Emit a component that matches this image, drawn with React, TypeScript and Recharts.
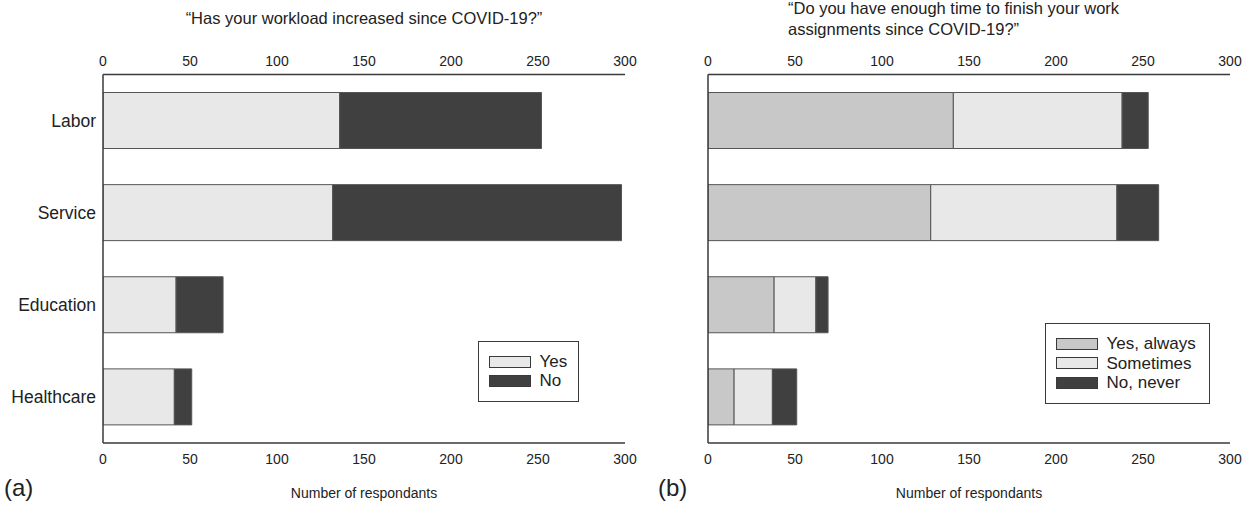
import { Bar, BarChart, XAxis, YAxis } from 'recharts'

const sectors = ['Labor', 'Service', 'Education', 'Healthcare']
const ticks = [0, 50, 100, 150, 200, 250, 300]

// (a) workload increased
const workloadYes = [136, 132, 42, 41]
const workloadNo = [116, 166, 27, 10]

// (b) enough time to finish
const timeAlways = [141, 128, 38, 15]
const timeSometimes = [97, 107, 24, 22]
const timeNever = [15, 24, 7, 14]

const workloadData = sectors.map((sector, i) => ({
  sector,
  yes: workloadYes[i],
  no: workloadNo[i],
}))

const timeData = sectors.map((sector, i) => ({
  sector,
  always: timeAlways[i],
  sometimes: timeSometimes[i],
  never: timeNever[i],
}))

const font = '"Liberation Sans", Arial, sans-serif'
const axisColor = '#3a3a3a'
const textColor = '#222'
const light = '#e8e8e8'
const mid = '#c8c8c8'
const dark = '#404040'
const edge = '#555'

type LegendItem = { label: string; color: string }

function LegendBox({ items, left, top, width, height }: { items: LegendItem[]; left: number; top: number; width: number; height: number }) {
  return (
    <div
      style={{
        position: 'absolute',
        left,
        top,
        width,
        height,
        border: `1.5px solid ${axisColor}`,
        background: '#fff',
        boxSizing: 'border-box',
        display: 'flex',
        flexDirection: 'column',
        justifyContent: 'center',
        paddingLeft: 9.5,
        fontFamily: font,
        fontSize: 17,
        color: textColor,
      }}
    >
      {items.map((item) => (
        <div key={item.label} style={{ display: 'flex', alignItems: 'center', height: 19.8 }}>
          <span
            style={{
              display: 'inline-block',
              width: 40,
              height: 10,
              background: item.color,
              border: `1px solid ${axisColor}`,
              marginRight: 9,
            }}
          />
          {item.label}
        </div>
      ))}
    </div>
  )
}

const tickStyle = { fill: textColor, fontSize: 14, fontFamily: font }

function axes(showLabels: boolean, yWidth: number) {
  return [
    <XAxis
      key="top"
      xAxisId="top"
      orientation="top"
      type="number"
      domain={[0, 300]}
      allowDataOverflow
      ticks={ticks}
      height={30}
      tickLine={false}
      tickMargin={3}
      stroke={axisColor}
      strokeWidth={1.5}
      tick={tickStyle}
      interval={0}
    />,
    <XAxis
      key="bottom"
      xAxisId="bottom"
      orientation="bottom"
      type="number"
      domain={[0, 300]}
      allowDataOverflow
      ticks={ticks}
      height={30}
      tickLine={false}
      tickMargin={5}
      stroke={axisColor}
      strokeWidth={1.5}
      tick={tickStyle}
      interval={0}
    />,
    <YAxis
      key="y"
      type="category"
      dataKey="sector"
      width={yWidth}
      tickLine={false}
      stroke={axisColor}
      strokeWidth={1.5}
      tick={showLabels ? { fill: textColor, fontSize: 17.5, fontFamily: font } : false}
      tickMargin={1}
    />,
  ]
}

export default function App() {
  return (
    <div
      style={{
        position: 'absolute',
        left: 0,
        top: 0,
        width: 1253,
        height: 507,
        background: '#fff',
        fontFamily: font,
        color: textColor,
      }}
    >
      <div style={{ position: 'absolute', left: 0, top: 0 }}>
        <BarChart
          width={640}
          height={507}
          layout="vertical"
          data={workloadData}
          barSize={56}
          margin={{ top: 44.5, right: 15, bottom: 34, left: 0 }}
        >
          {axes(true, 103)}
          <Bar dataKey="yes" name="Yes" stackId="a" xAxisId="bottom" fill={light} stroke={edge} isAnimationActive={false} />
          <Bar dataKey="no" name="No" stackId="a" xAxisId="bottom" fill={dark} stroke={edge} isAnimationActive={false} />
        </BarChart>
      </div>

      <div style={{ position: 'absolute', left: 640, top: 0 }}>
        <BarChart
          width={613}
          height={507}
          layout="vertical"
          data={timeData}
          barSize={56}
          margin={{ top: 44.5, right: 23, bottom: 34, left: 0 }}
        >
          {axes(false, 68)}
          <Bar dataKey="always" name="Yes, always" stackId="b" xAxisId="bottom" fill={mid} stroke={edge} isAnimationActive={false} />
          <Bar dataKey="sometimes" name="Sometimes" stackId="b" xAxisId="bottom" fill={light} stroke={edge} isAnimationActive={false} />
          <Bar dataKey="never" name="No, never" stackId="b" xAxisId="bottom" fill={dark} stroke={edge} isAnimationActive={false} />
        </BarChart>
      </div>

      <LegendBox
        left={478}
        top={341}
        width={101}
        height={61}
        items={[
          { label: 'Yes', color: light },
          { label: 'No', color: dark },
        ]}
      />
      <LegendBox
        left={1045}
        top={323}
        width={165}
        height={81}
        items={[
          { label: 'Yes, always', color: mid },
          { label: 'Sometimes', color: light },
          { label: 'No, never', color: dark },
        ]}
      />

      <div style={{ position: 'absolute', left: 104, width: 520, top: 9, textAlign: 'center', fontSize: 16.5 }}>
        “Has your workload increased since COVID-19?”
      </div>
      <div style={{ position: 'absolute', left: 788, top: -2, fontSize: 16.5, lineHeight: '21px' }}>
        “Do you have enough time to finish your work
        <br />
        assignments since COVID-19?”
      </div>

      <div style={{ position: 'absolute', left: 4, top: 474, fontSize: 24 }}>(a)</div>
      <div style={{ position: 'absolute', left: 658, top: 474, fontSize: 24 }}>(b)</div>
      <div style={{ position: 'absolute', left: 104, width: 520, top: 485, textAlign: 'center', fontSize: 14 }}>
        Number of respondants
      </div>
      <div style={{ position: 'absolute', left: 708, width: 522, top: 485, textAlign: 'center', fontSize: 14 }}>
        Number of respondants
      </div>
    </div>
  )
}
